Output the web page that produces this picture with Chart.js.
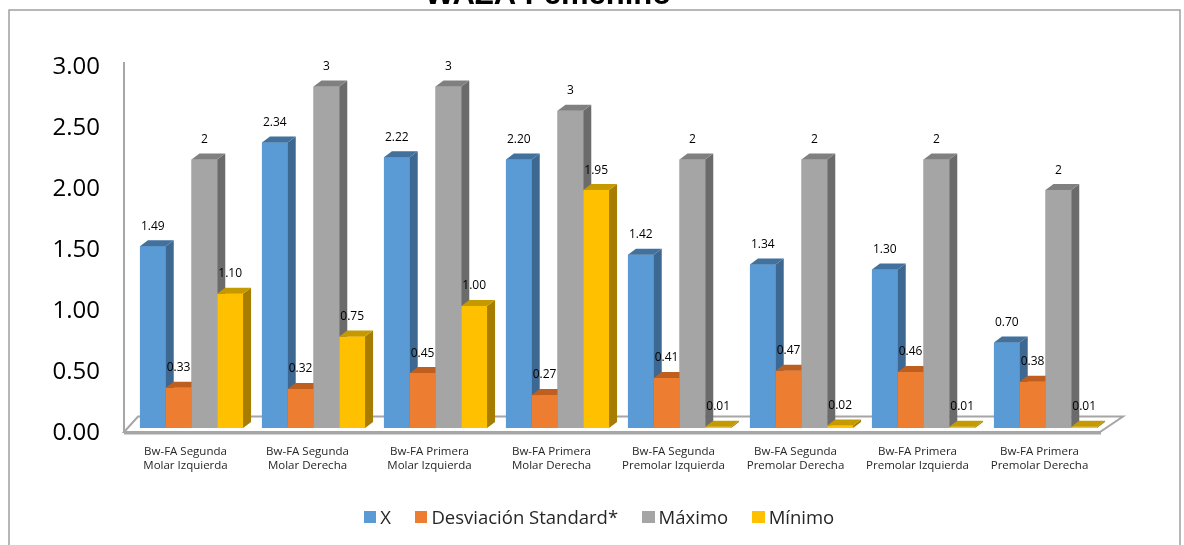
<!DOCTYPE html>
<html><head><meta charset="utf-8">
<script src="https://cdn.jsdelivr.net/npm/chart.js@4.4.1/dist/chart.umd.min.js"></script>
<style>
html,body{margin:0;padding:0;background:#fff;}
#wrap{position:relative;width:1184px;height:545px;overflow:hidden;}
#legend{position:absolute;left:0;top:505px;width:1184px;display:flex;justify-content:center;padding-left:14px;box-sizing:border-box;font-family:"Open Sans";font-size:18.5px;color:#262626;line-height:24px;}
.item{display:flex;align-items:center;margin:0 12px;}
.sw{width:12.5px;height:12.5px;margin-right:4px;}
</style></head>
<body><div id="wrap"><canvas id="c" width="1184" height="545"></canvas><div id="legend"></div></div>
<script>
const categories = [
  ['Bw-FA Segunda','Molar Izquierda'],
  ['Bw-FA Segunda','Molar Derecha'],
  ['Bw-FA Primera','Molar Izquierda'],
  ['Bw-FA Primera','Molar Derecha'],
  ['Bw-FA Segunda','Premolar Izquierda'],
  ['Bw-FA Segunda','Premolar Derecha'],
  ['Bw-FA Primera','Premolar Izquierda'],
  ['Bw-FA Primera','Premolar Derecha']
];
const seriesNames = ['X','Desviación Standard*','Máximo','Mínimo'];
const meanX   = [1.49, 2.34, 2.22, 2.20, 1.42, 1.34, 1.30, 0.70];
const stdDev  = [0.33, 0.32, 0.45, 0.27, 0.41, 0.47, 0.46, 0.38];
const maximo  = [2.20, 2.80, 2.80, 2.60, 2.20, 2.20, 2.20, 1.95];
const minimo  = [1.10, 0.75, 1.00, 1.95, 0.01, 0.02, 0.01, 0.01];
const labelDecimals = [2, 2, 0, 2];
const yMin = 0, yMax = 3, yStep = 0.5;
const titleText = 'WAZA Femenino';

const frontColors = ['#5B9BD5','#ED7D31','#A5A5A5','#FFC000'];
const sideColors  = ['#3C6891','#B05C22','#6B6B6B','#A67D00'];
const topColors   = ['#41719C','#BE5F1F','#808080','#C49A00'];
const DX = 8, DY = -6;

const seriesValues = [meanX, stdDev, maximo, minimo];

// HTML legend
const lg = document.getElementById('legend');
seriesNames.forEach((n,i)=>{
  const it = document.createElement('div'); it.className='item';
  const sw = document.createElement('div'); sw.className='sw'; sw.style.background=frontColors[i];
  const tx = document.createElement('span'); tx.textContent=n;
  it.appendChild(sw); it.appendChild(tx); lg.appendChild(it);
});

const floorPlugin = {
  id:'floor',
  beforeDatasetsDraw(chart){
    const {ctx, chartArea:a} = chart;
    const fl = a.left - 6.5, fr = a.right - 6.5, fy = a.bottom + 4;
    const bl = a.left + 7.5, br = a.right + 16.5, by = a.bottom - 11.5;
    ctx.save();
    ctx.fillStyle = '#ffffff';
    ctx.strokeStyle = '#a6a6a6';
    ctx.lineWidth = 2;
    ctx.beginPath();
    ctx.moveTo(fl,fy); ctx.lineTo(fr,fy); ctx.lineTo(br,by); ctx.lineTo(bl,by); ctx.closePath();
    ctx.fill(); ctx.stroke();
    ctx.lineWidth = 3;
    ctx.beginPath(); ctx.moveTo(fl,fy+1); ctx.lineTo(fr+1,fy+1); ctx.stroke();
    ctx.lineWidth = 2;
    ctx.beginPath(); ctx.moveTo(fl, a.top); ctx.lineTo(fl, fy); ctx.stroke();
    ctx.restore();
  },
  afterDatasetsDraw(chart){
    const ctx = chart.ctx;
    const metas = seriesValues.map((_,i)=>chart.getDatasetMeta(i));
    ctx.save();
    for (let j=0;j<categories.length;j++){
      for (let i=0;i<metas.length;i++){
        const el = metas[i].data[j];
        const p = el.getProps(['x','y','base','width'], true);
        const l = p.x - p.width/2, r = p.x + p.width/2;
        el.draw(ctx);
        ctx.fillStyle = sideColors[i];
        ctx.beginPath();
        ctx.moveTo(r,p.y); ctx.lineTo(r+DX,p.y+DY); ctx.lineTo(r+DX,p.base+DY); ctx.lineTo(r,p.base);
        ctx.closePath(); ctx.fill();
        ctx.fillStyle = topColors[i];
        ctx.beginPath();
        ctx.moveTo(l,p.y); ctx.lineTo(l+DX,p.y+DY); ctx.lineTo(r+DX,p.y+DY); ctx.lineTo(r,p.y);
        ctx.closePath(); ctx.fill();
      }
    }
    ctx.fillStyle = '#000000';
    ctx.font = '12px "Open Sans"';
    ctx.textAlign = 'center';
    ctx.textBaseline = 'middle';
    for (let i=0;i<metas.length;i++){
      metas[i].data.forEach((el,j)=>{
        const p = el.getProps(['x','y'], true);
        ctx.fillText(seriesValues[i][j].toFixed(labelDecimals[i]), p.x, p.y - 20);
      });
    }
    ctx.restore();
  },
  afterDraw(chart){
    const ctx = chart.ctx;
    ctx.save();
    ctx.strokeStyle = '#a0a0a0';
    ctx.lineWidth = 1.5;
    ctx.beginPath();
    ctx.moveTo(9,546); ctx.lineTo(9,10); ctx.lineTo(1180,10); ctx.lineTo(1180,546);
    ctx.stroke();
    ctx.fillStyle = '#000';
    ctx.font = 'bold 31px "Liberation Sans"';
    ctx.textAlign = 'center';
    ctx.textBaseline = 'alphabetic';
    ctx.fillText(titleText, 548, 4);
    ctx.restore();
  }
};

new Chart(document.getElementById('c'), {
  type:'bar',
  data:{
    labels: categories,
    datasets: seriesNames.map((n,i)=>({
      label:n, data:seriesValues[i], backgroundColor:frontColors[i], borderWidth:0,
      barPercentage:1, categoryPercentage:0.845
    }))
  },
  options:{
    responsive:false, animation:false, devicePixelRatio:1,
    layout:{padding:{left:0,top:62,right:77.5,bottom:57}},
    plugins:{legend:{display:false}, tooltip:{enabled:false}, title:{display:false}},
    scales:{
      x:{
        grid:{display:false, drawTicks:false}, border:{display:false},
        ticks:{font:{family:'"Open Sans"', size:11.5, lineHeight:1.26}, color:'#262626', padding:16, labelOffset:-6, maxRotation:0, autoSkip:false},
        afterFit(s){ s.height = 60; }
      },
      y:{
        min:yMin, max:yMax,
        grid:{display:false, drawTicks:false}, border:{display:false},
        ticks:{stepSize:yStep, font:{family:'"Open Sans"', size:24}, color:'#000', padding:30.5, labelOffset:5.5,
          callback:v=>Number(v).toFixed(2)},
        afterFit(s){ s.width = 130.5; }
      }
    }
  },
  plugins:[floorPlugin]
});
</script>
</body></html>
